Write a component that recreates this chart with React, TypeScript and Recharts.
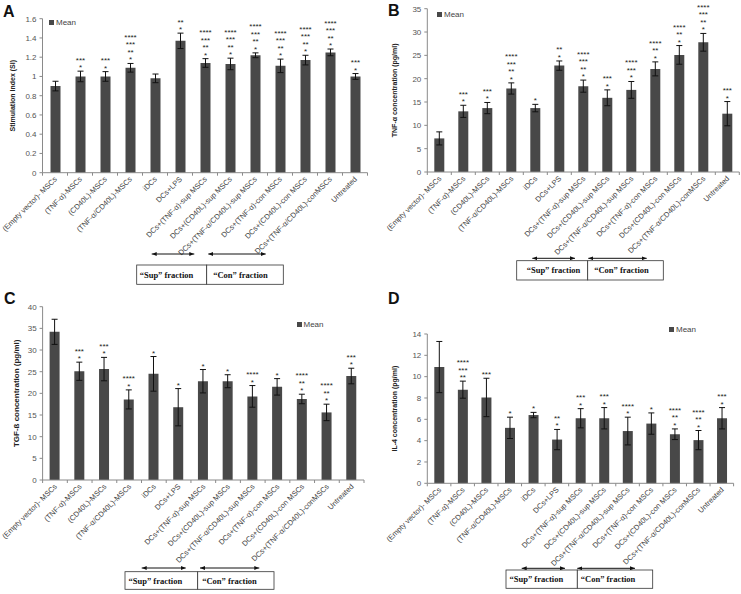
import { Bar, BarChart, ErrorBar, LabelList, Legend, XAxis, YAxis } from 'recharts'

// Four-panel bar figure: SI, TNF-α, TGF-ß and IL-4 per treatment group.
// Stars are listed top-to-bottom, separated by '|'.

const CATEGORIES = [
  '(Empty vector)- MSCs',
  '(TNF-α)-MSCs',
  '(CD40L)-MSCs',
  '(TNF-α/CD40L)-MSCs',
  'iDCs',
  'DCs+LPS',
  'DCs+(TNF-α)-sup MSCs',
  'DCs+(CD40L)-sup MSCs',
  'DCs+(TNF-α/CD40L)-sup  MSCs',
  'DCs+(TNF-α)-con  MSCs',
  'DCs+(CD40L)-con MSCs',
  'DCs+(TNF-α/CD40L)-conMSCs',
  'Untreated',
]

// A - stimulation index
const SI_MEAN = [0.9, 1.0, 1.0, 1.09, 0.98, 1.37, 1.14, 1.13, 1.22, 1.11, 1.17, 1.25, 1.0]
const SI_ERR = [0.05, 0.055, 0.05, 0.045, 0.045, 0.08, 0.045, 0.06, 0.025, 0.07, 0.05, 0.035, 0.03]
const SI_STARS = ['', '***|*', '***|*', '****|***|**|*', '', '**|*', '****|***|**|*', '****|***|**|*', '****|***|**|*', '****|***|**|*', '****|***|**|*', '****|***|**|*', '***|*']
const SI_TICKS = [0, 0.2, 0.4, 0.6, 0.8, 1, 1.2, 1.4, 1.6]

// B - TNF-α
const TNF_MEAN = [7.2, 13.0, 13.7, 17.9, 13.7, 22.8, 18.4, 15.9, 17.6, 22.1, 25.1, 27.8, 12.5]
const TNF_ERR = [1.4, 1.3, 1.2, 1.2, 0.8, 1.0, 1.3, 1.7, 1.8, 1.5, 2.0, 1.9, 2.6]
const TNF_STARS = ['', '***|*', '***|*', '****|***|**|*', '*', '**|*', '****|***|**|*', '***|*', '****|***|*', '****|**|*', '****|**|*', '****|***|**|*', '***|*']
const TNF_TICKS = [0, 5, 10, 15, 20, 25, 30, 35]

// C - TGF-ß
const TGF_MEAN = [34.2, 25.1, 25.6, 18.6, 24.5, 16.8, 22.8, 22.8, 19.3, 21.5, 18.7, 15.6, 24.0]
const TGF_ERR = [2.9, 2.1, 2.7, 2.2, 4.0, 4.3, 2.7, 1.5, 2.5, 1.9, 1.1, 1.9, 1.8]
const TGF_STARS = ['', '***|*', '***|*', '****|*', '*', '*', '*', '*', '****|*', '*', '****|**|*', '****|**|*', '***|*']
const TGF_TICKS = [0, 5, 10, 15, 20, 25, 30, 35, 40]

// D - IL-4
const IL4_MEAN = [10.9, 8.78, 8.05, 5.2, 6.4, 4.1, 6.1, 6.1, 4.9, 5.6, 4.6, 4.05, 6.1]
const IL4_ERR = [2.4, 0.8, 1.8, 1.0, 0.25, 0.95, 0.9, 1.0, 1.3, 1.0, 0.5, 0.9, 1.0]
const IL4_STARS = ['', '****|***|**', '***', '*', '*', '**|*', '***|*', '***|*', '****|*', '*', '****|**|*', '****|**|*', '***|*']
const IL4_TICKS = [0, 2, 4, 6, 8, 10, 12, 14]

const FONT = '"Liberation Sans", Arial, sans-serif'
const SERIF = '"Liberation Serif", "Times New Roman", serif'
const BAR = '#484848'
const AXIS = '#8a8a8a'
const TEXT = '#555'

type Row = { name: string; mean: number; err: number; stars: string[] }

function buildRows(mean: number[], err: number[], stars: string[]): Row[] {
  return CATEGORIES.map((name, i) => ({
    name,
    mean: mean[i],
    err: err[i],
    stars: stars[i] ? stars[i].split('|') : [],
  }))
}

type PanelCfg = {
  left: number
  top: number
  width: number
  plotLeft: number
  plotRight: number
  plotTop: number
  plotBottom: number
  ticks: number[]
  title: string
  titleX: number
  titleSize: number
  legendLeft: number
  legendTop: number
  rows: Row[]
}

const X_AXIS_HEIGHT = 95

function CategoryTick(props: any) {
  const { x, y, payload, index, slot } = props
  const tx = x + 2.5
  const ty = y + 7
  return (
    <g>
      <line x1={x - slot / 2} x2={x - slot / 2} y1={y} y2={y + 3} stroke={AXIS} />
      {index === CATEGORIES.length - 1 && (
        <line x1={x + slot / 2} x2={x + slot / 2} y1={y} y2={y + 3} stroke={AXIS} />
      )}
      <text
        x={tx}
        y={ty}
        textAnchor="end"
        transform={`rotate(-45, ${tx}, ${ty})`}
        fontSize={7.5}
        fontFamily={FONT}
        fill="#444"
      >
        {payload.value}
      </text>
    </g>
  )
}

function starsRenderer(rows: Row[]) {
  return (props: any) => {
    const vb = props.viewBox ?? props
    const x = Number(vb.x)
    const y = Number(vb.y)
    const width = Number(vb.width)
    const height = Math.abs(Number(vb.height))
    const row = rows[props.index]
    if (!row || row.stars.length === 0) return null
    const capY = y - (row.err * height) / row.mean
    const cx = x + width / 2
    const lines = [...row.stars].reverse()
    return (
      <g>
        {lines.map((s, k) => (
          <text key={k} x={cx} y={capY - 1 - k * 7.5} textAnchor="middle" fontSize={8} fontFamily={FONT} fill="#222">
            {s}
          </text>
        ))}
      </g>
    )
  }
}

function MeanLegend() {
  return (
    <div style={{ display: 'flex', alignItems: 'center', fontFamily: FONT, fontSize: 8, color: '#444', lineHeight: '9px' }}>
      <span style={{ display: 'inline-block', width: 5, height: 5, background: BAR, marginRight: 2 }} />
      Mean
    </div>
  )
}

function Panel({ cfg }: { cfg: PanelCfg }) {
  const height = cfg.plotBottom + X_AXIS_HEIGHT
  const slot = (cfg.plotRight - cfg.plotLeft) / CATEGORIES.length
  const max = cfg.ticks[cfg.ticks.length - 1]
  return (
    <div style={{ position: 'absolute', left: cfg.left, top: cfg.top }}>
      <BarChart
        width={cfg.width}
        height={height}
        data={cfg.rows}
        margin={{ top: cfg.plotTop, right: cfg.width - cfg.plotRight, bottom: 0, left: 0 }}
      >
        <XAxis
          dataKey="name"
          interval={0}
          height={X_AXIS_HEIGHT}
          tickLine={false}
          tickSize={0}
          tickMargin={0}
          axisLine={{ stroke: AXIS }}
          tick={(p: any) => <CategoryTick {...p} slot={slot} />}
        />
        <YAxis
          width={cfg.plotLeft}
          domain={[0, max]}
          ticks={cfg.ticks}
          interval={0}
          tickSize={3}
          tickMargin={3}
          tickLine={{ stroke: AXIS }}
          axisLine={{ stroke: AXIS }}
          tick={{ fontSize: 8, fill: TEXT, fontFamily: FONT }}
          label={{
            content: (p: any) => {
              const vb = p.viewBox ?? {}
              const cy = Number(vb.y) + Number(vb.height) / 2
              return (
                <text
                  x={cfg.titleX}
                  y={cy}
                  textAnchor="middle"
                  transform={`rotate(-90, ${cfg.titleX}, ${cy})`}
                  fontSize={cfg.titleSize}
                  fontWeight="bold"
                  fontFamily={FONT}
                  fill="#222"
                >
                  {cfg.title}
                </text>
              )
            },
          }}
        />
        <Legend
          layout="horizontal"
          verticalAlign="middle"
          align="center"
          wrapperStyle={{ left: cfg.legendLeft, top: cfg.legendTop, width: 'auto', height: 'auto' }}
          content={() => <MeanLegend />}
        />
        <Bar dataKey="mean" name="Mean" fill={BAR} barSize={10} isAnimationActive={false}>
          <ErrorBar dataKey="err" width={3} stroke="#111" strokeWidth={1} />
          <LabelList dataKey="mean" content={starsRenderer(cfg.rows)} />
        </Bar>
      </BarChart>
    </div>
  )
}

const PANELS: PanelCfg[] = [
  {
    left: 0, top: 0, width: 370,
    plotLeft: 42.5, plotRight: 367.5, plotTop: 18.7, plotBottom: 172.7,
    ticks: SI_TICKS, title: 'Stimulation Index (SI)', titleX: 15.5, titleSize: 7,
    legendLeft: 49, legendTop: 17.5,
    rows: buildRows(SI_MEAN, SI_ERR, SI_STARS),
  },
  {
    left: 370, top: 0, width: 371,
    plotLeft: 57.3, plotRight: 369.3, plotTop: 8.7, plotBottom: 172,
    ticks: TNF_TICKS, title: 'TNF-α concentration (pg/ml)', titleX: 27.5, titleSize: 7,
    legendLeft: 67, legendTop: 10,
    rows: buildRows(TNF_MEAN, TNF_ERR, TNF_STARS),
  },
  {
    left: 0, top: 290, width: 370,
    plotLeft: 42.6, plotRight: 364, plotTop: 16.7, plotBottom: 190,
    ticks: TGF_TICKS, title: 'TGF-ß concentration (pg/ml)', titleX: 19.5, titleSize: 8,
    legendLeft: 296.5, legendTop: 30,
    rows: buildRows(TGF_MEAN, TGF_ERR, TGF_STARS),
  },
  {
    left: 370, top: 300, width: 371,
    plotLeft: 57.3, plotRight: 363.6, plotTop: 34, plotBottom: 183.3,
    ticks: IL4_TICKS, title: 'IL-4 concentration (pg/ml)', titleX: 27.5, titleSize: 7,
    legendLeft: 299, legendTop: 24.5,
    rows: buildRows(IL4_MEAN, IL4_ERR, IL4_STARS),
  },
]

// "Sup" / "Con" fraction boxes under each panel (page coordinates)
const FRACTIONS = [
  { y: 265, h: 19.3, x0: 136.7, x1: 206.7, x2: 283.3, ay: 254, sup: [151.7, 194.3], con: [208.3, 265.7], dSup: 3, dCon: 6.5 },
  { y: 260.7, h: 19.3, x0: 516.7, x1: 587.7, x2: 663.3, ay: 258.3, sup: [532.3, 575], con: [588.3, 646.7], dSup: 10, dCon: 6.5 },
  { y: 571.7, h: 17.6, x0: 125, x1: 197.7, x2: 274, ay: 568, sup: [141.7, 185.7], con: [200, 259.3], dSup: 3.5, dCon: 4.5 },
  { y: 570, h: 18.3, x0: 506, x1: 577.3, x2: 652.7, ay: 568.3, sup: [521.7, 565], con: [577.3, 635], dSup: 3.5, dCon: 3.5 },
]

const LETTERS = [
  { t: 'A', x: 3, y: 17 },
  { t: 'B', x: 388, y: 16 },
  { t: 'C', x: 4, y: 304 },
  { t: 'D', x: 388, y: 304 },
]

function Overlay() {
  return (
    <svg width={741} height={594} style={{ position: 'absolute', left: 0, top: 0, pointerEvents: 'none' }}>
      <defs>
        <marker id="ah" markerWidth={5} markerHeight={4} refX={5} refY={2} orient="auto-start-reverse" markerUnits="userSpaceOnUse">
          <path d="M0,0 L5,2 L0,4 z" fill="#111" />
        </marker>
      </defs>
      {FRACTIONS.map((f, i) => (
        <g key={i}>
          <rect x={f.x0} y={f.y} width={f.x1 - f.x0} height={f.h} fill="#fff" stroke="#333" strokeWidth={0.8} />
          <rect x={f.x1} y={f.y} width={f.x2 - f.x1} height={f.h} fill="#fff" stroke="#333" strokeWidth={0.8} />
          <line x1={f.sup[0]} x2={f.sup[1]} y1={f.ay} y2={f.ay} stroke="#111" markerStart="url(#ah)" markerEnd="url(#ah)" />
          <line x1={f.con[0]} x2={f.con[1]} y1={f.ay} y2={f.ay} stroke="#111" markerStart="url(#ah)" markerEnd="url(#ah)" />
          <text x={f.x0 + f.dSup} y={f.y + f.h / 2 + 3} fontSize={8.5} fontWeight="bold" fontFamily={SERIF} fill="#111">
            “Sup” fraction
          </text>
          <text x={f.x1 + f.dCon} y={f.y + f.h / 2 + 3} fontSize={8.5} fontWeight="bold" fontFamily={SERIF} fill="#111">
            “Con” fraction
          </text>
        </g>
      ))}
      {LETTERS.map((l) => (
        <text key={l.t} x={l.x} y={l.y} fontSize={16} fontWeight="bold" fontFamily={FONT} fill="#111">
          {l.t}
        </text>
      ))}
    </svg>
  )
}

export default function App() {
  return (
    <div style={{ position: 'absolute', left: 0, top: 0, width: 741, height: 594, background: '#fff', overflow: 'hidden' }}>
      {PANELS.map((cfg, i) => (
        <Panel key={i} cfg={cfg} />
      ))}
      <Overlay />
    </div>
  )
}
